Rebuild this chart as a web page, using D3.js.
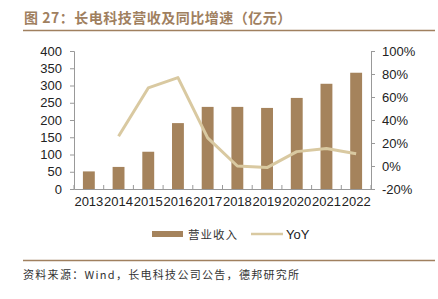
<!DOCTYPE html>
<html>
<head>
<meta charset="utf-8">
<script src="https://cdn.jsdelivr.net/npm/d3@7"></script>
<style>
  body { margin: 0; background: #fff; }
  svg { display: block; }
</style>
</head>
<body>
<svg id="chart" width="438" height="299"></svg>
<script>
// data
var years = ["2013", "2014", "2015", "2016", "2017", "2018", "2019", "2020", "2021", "2022"];
var revenue = [51, 64, 108, 191, 238, 238, 235, 264, 305, 337];
var yoy = [null, 25.9, 67.9, 76.9, 24.5, 0.0, -1.4, 12.5, 15.3, 10.7];
var leftTicks = [0, 50, 100, 150, 200, 250, 300, 350, 400];
var rightTicks = [-20, 0, 20, 40, 60, 80, 100];

var barColor = "#a5835c", lineColor = "#d9c9a1", titleColor = "#a0805f", axisColor = "#999";
var cnFont = "'Noto Sans CJK SC', sans-serif";
var numFont = "'Liberation Sans', Arial, sans-serif";

var svg = d3.select("#chart");
const margin = {top: 51, left: 74, right: 438 - 371, bottom: 299 - 189};
var width = 438 - margin.left - margin.right,
    height = 299 - margin.top - margin.bottom;

/** title + rules */
svg.append("text").attr("x", 24).attr("y", 23)
  .attr("font-family", cnFont).attr("font-weight", "bold").attr("font-size", 14)
  .attr("letter-spacing", 0.5)
  .attr("fill", titleColor).text("图 27：长电科技营收及同比增速（亿元）");
svg.append("line").attr("x1", 23).attr("x2", 435).attr("y1", 30.5).attr("y2", 30.5)
  .attr("stroke", titleColor).attr("stroke-width", 1.5);
svg.append("line").attr("x1", 23).attr("x2", 435).attr("y1", 260.5).attr("y2", 260.5)
  .attr("stroke", titleColor).attr("stroke-width", 1.5);
svg.append("text").attr("x", 23).attr("y", 279)
  .attr("font-family", cnFont).attr("font-size", 11).attr("fill", "#333")
  .attr("letter-spacing", 1.3)
  .text("资料来源：Wind，长电科技公司公告，德邦研究所");

var g = svg.append("g").attr("transform", `translate(${margin.left},${margin.top})`);

const x = d3.scaleBand().domain(years).range([0, width]).paddingInner(0.6).paddingOuter(0.3);
const y = d3.scaleLinear().domain([0, 400]).range([height, 0]);
const y2 = d3.scaleLinear().domain([-20, 100]).range([height, 0]);

/** axes */
var gx = g.append("g").attr("transform", `translate(0,${height})`)
  .call(d3.axisBottom(x).tickSize(0).tickPadding(8));
// category boundary ticks pointing up
var step = width / years.length;
g.selectAll(".bTick").data(d3.range(years.length + 1)).join("line")
  .attr("class", "bTick")
  .attr("x1", i => i * step).attr("x2", i => i * step)
  .attr("y1", height).attr("y2", height - 4)
  .attr("stroke", axisColor);

var gy = g.append("g").call(d3.axisLeft(y).tickValues(leftTicks).tickSize(4).tickPadding(8));
var gy2 = g.append("g").attr("transform", `translate(${width},0)`)
  .call(d3.axisRight(y2).tickValues(rightTicks).tickSize(4).tickPadding(7).tickFormat(d => d + "%"));

[gx, gy, gy2].forEach(a => {
  a.select(".domain").attr("stroke", axisColor);
  a.selectAll(".tick line").attr("stroke", axisColor);
  a.selectAll("text").attr("font-family", numFont).attr("font-size", 13).attr("fill", "#222");
});

/** bars */
g.selectAll(".bar").data(revenue).join("rect")
  .attr("class", "bar")
  .attr("x", (d, i) => x(years[i]))
  .attr("width", x.bandwidth())
  .attr("y", d => y(d))
  .attr("height", d => height - y(d))
  .attr("fill", barColor);

/** yoy line */
var pts = yoy.map((v, i) => [years[i], v]).filter(p => p[1] !== null);
g.append("path").datum(pts)
  .attr("fill", "none").attr("stroke", lineColor).attr("stroke-width", 3)
  .attr("stroke-linejoin", "round")
  .attr("d", d3.line().x(d => x(d[0]) + x.bandwidth() / 2).y(d => y2(d[1])));

/** legend */
var lg = svg.append("g");
lg.append("rect").attr("x", 152).attr("y", 231).attr("width", 31).attr("height", 6).attr("fill", barColor);
lg.append("text").attr("x", 188).attr("y", 238.5).attr("font-family", cnFont).attr("font-size", 11.5)
  .attr("letter-spacing", 1)
  .attr("fill", "#333").text("营业收入");
lg.append("line").attr("x1", 251).attr("x2", 283).attr("y1", 234).attr("y2", 234)
  .attr("stroke", lineColor).attr("stroke-width", 2.5);
lg.append("text").attr("x", 286).attr("y", 239).attr("font-family", numFont).attr("font-size", 13)
  .attr("fill", "#222").text("YoY");
</script>
</body>
</html>
